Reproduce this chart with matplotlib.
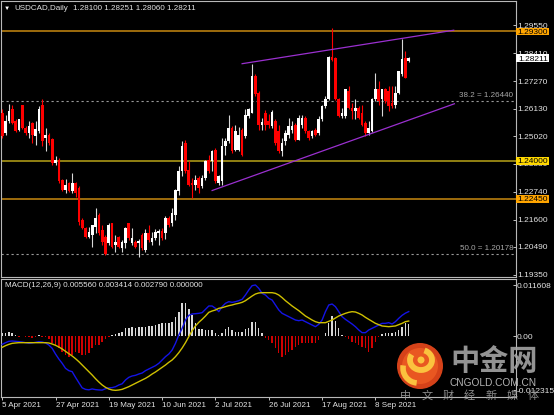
import matplotlib
matplotlib.use('Agg')
import matplotlib.pyplot as plt
from matplotlib.patches import Circle, Rectangle, Arc
import numpy as np

plt.rcParams['font.family'] = ['Liberation Sans', 'DejaVu Sans']

# ---- daily candles, 5 Apr 2021 .. 22 Sep 2021 ----
OPEN = [1.2597, 1.2515, 1.2563, 1.2611, 1.2563, 1.2528, 1.2627, 1.2535, 1.2515, 1.2556,
        1.2501, 1.2522, 1.2631, 1.2494, 1.2508, 1.2490, 1.2391, 1.2405, 1.2323, 1.2282,
        1.2309, 1.2275, 1.2309, 1.2289, 1.2159, 1.2124, 1.2090, 1.2097, 1.2131, 1.2179,
        1.2117, 1.2090, 1.2063, 1.2145, 1.2056, 1.2090, 1.2042, 1.2063, 1.2145, 1.2063,
        1.2069, 1.2063, 1.2097, 1.2035, 1.2106, 1.2069, 1.2083, 1.2106, 1.2114, 1.2104,
        1.2165, 1.2145, 1.2179, 1.2275, 1.2357, 1.2474, 1.2364, 1.2309, 1.2302, 1.2330,
        1.2296, 1.2330, 1.2405, 1.2398, 1.2446, 1.2309, 1.2316, 1.2460, 1.2480, 1.2535,
        1.2446, 1.2446, 1.2528, 1.2501, 1.2583, 1.2597, 1.2748, 1.2679, 1.2546, 1.2597,
        1.2563, 1.2542, 1.2565, 1.2521, 1.2439, 1.2480, 1.2508, 1.2528, 1.2549, 1.2487,
        1.2549, 1.2576, 1.2521, 1.2501, 1.2528, 1.2515, 1.2570, 1.2624, 1.2652, 1.2826,
        1.2823, 1.2652, 1.2583, 1.2583, 1.2686, 1.2618, 1.2604, 1.2618, 1.2597, 1.2556,
        1.2515, 1.2521, 1.2652, 1.2693, 1.2652, 1.2693, 1.2686, 1.2638, 1.2631, 1.2679,
        1.2755, 1.2823, 1.2810]
HIGH = [1.2611, 1.2590, 1.2635, 1.2627, 1.2570, 1.2572, 1.2631, 1.2542, 1.2563, 1.2559,
        1.2563, 1.2624, 1.2652, 1.2535, 1.2515, 1.2494, 1.2419, 1.2412, 1.2326, 1.2326,
        1.2312, 1.2350, 1.2312, 1.2296, 1.2165, 1.2131, 1.2131, 1.2138, 1.2206, 1.2186,
        1.2138, 1.2097, 1.2148, 1.2148, 1.2097, 1.2093, 1.2076, 1.2131, 1.2148, 1.2124,
        1.2076, 1.2079, 1.2104, 1.2120, 1.2138, 1.2110, 1.2120, 1.2120, 1.2124, 1.2175,
        1.2175, 1.2206, 1.2287, 1.2378, 1.2480, 1.2487, 1.2398, 1.2330, 1.2343, 1.2337,
        1.2343, 1.2405, 1.2426, 1.2446, 1.2453, 1.2343, 1.2494, 1.2494, 1.2590, 1.2542,
        1.2549, 1.2538, 1.2535, 1.2611, 1.2618, 1.2798, 1.2755, 1.2686, 1.2576, 1.2607,
        1.2593, 1.2607, 1.2570, 1.2549, 1.2494, 1.2528, 1.2576, 1.2563, 1.2556, 1.2590,
        1.2590, 1.2583, 1.2528, 1.2528, 1.2535, 1.2583, 1.2631, 1.2665, 1.2830, 1.2946,
        1.2826, 1.2656, 1.2618, 1.2693, 1.2707, 1.2638, 1.2652, 1.2624, 1.2631, 1.2563,
        1.2563, 1.2656, 1.2761, 1.2727, 1.2693, 1.2700, 1.2707, 1.2707, 1.2707, 1.2768,
        1.2898, 1.2850, 1.28251]
LOW = [1.2494, 1.2508, 1.2556, 1.2553, 1.2517, 1.2522, 1.2531, 1.2508, 1.2494, 1.2474,
       1.2467, 1.2515, 1.2460, 1.2439, 1.2467, 1.2385, 1.2385, 1.2309, 1.2275, 1.2268,
       1.2271, 1.2268, 1.2254, 1.2138, 1.2120, 1.2083, 1.2083, 1.2049, 1.2104, 1.2097,
       1.2056, 1.2015, 1.2056, 1.2042, 1.2028, 1.2042, 1.2028, 1.2042, 1.2076, 1.2056,
       1.2042, 1.2008, 1.2035, 1.2028, 1.2069, 1.2056, 1.2076, 1.2056, 1.2076, 1.2079,
       1.2128, 1.2134, 1.2159, 1.2261, 1.2337, 1.2350, 1.2296, 1.2248, 1.2282, 1.2268,
       1.2289, 1.2323, 1.2350, 1.2357, 1.2309, 1.2302, 1.2302, 1.2426, 1.2474, 1.2433,
       1.2439, 1.2439, 1.2419, 1.2494, 1.2576, 1.2597, 1.2665, 1.2528, 1.2528, 1.2528,
       1.2535, 1.2535, 1.2467, 1.2433, 1.2419, 1.2467, 1.2494, 1.2515, 1.2483, 1.2487,
       1.2535, 1.2515, 1.2487, 1.2494, 1.2501, 1.2508, 1.2563, 1.2618, 1.2648, 1.2809,
       1.2648, 1.2579, 1.2576, 1.2576, 1.2611, 1.2570, 1.2570, 1.2570, 1.2542, 1.2501,
       1.2508, 1.2519, 1.2645, 1.2631, 1.2583, 1.2638, 1.2604, 1.2618, 1.2618, 1.2672,
       1.2748, 1.2738, 1.2806]
CLOSE = [1.2501, 1.2563, 1.2604, 1.2556, 1.2522, 1.2570, 1.2535, 1.2515, 1.2545, 1.2508,
         1.2531, 1.2611, 1.2480, 1.2508, 1.2474, 1.2391, 1.2405, 1.2316, 1.2282, 1.2302,
         1.2275, 1.2309, 1.2268, 1.2152, 1.2124, 1.2090, 1.2110, 1.2138, 1.2165, 1.2104,
         1.2069, 1.2021, 1.2138, 1.2049, 1.2069, 1.2049, 1.2069, 1.2124, 1.2083, 1.2083,
         1.2049, 1.2074, 1.2042, 1.2104, 1.2076, 1.2083, 1.2110, 1.2114, 1.2083, 1.2165,
         1.2138, 1.2186, 1.2282, 1.2357, 1.2460, 1.2357, 1.2302, 1.2302, 1.2323, 1.2289,
         1.2330, 1.2398, 1.2357, 1.2439, 1.2316, 1.2337, 1.2460, 1.2480, 1.2535, 1.2439,
         1.2521, 1.2508, 1.2426, 1.2590, 1.2611, 1.2748, 1.2672, 1.2549, 1.2560, 1.2549,
         1.2549, 1.2601, 1.2474, 1.2439, 1.2474, 1.2515, 1.2542, 1.2542, 1.2487, 1.2576,
         1.2576, 1.2521, 1.2494, 1.2524, 1.2508, 1.2570, 1.2624, 1.2652, 1.2826, 1.2812,
         1.2652, 1.2583, 1.2597, 1.2693, 1.2618, 1.2604, 1.2618, 1.2576, 1.2549, 1.2515,
         1.2535, 1.2652, 1.2693, 1.2645, 1.2693, 1.2645, 1.2624, 1.2624, 1.2679, 1.2768,
         1.2816, 1.2741, 1.28211]

# ---- MACD(12,26,9) window ----
MACD_MAIN = [-0.00190, -0.00152, -0.00121, -0.00114, -0.00121, -0.00129, -0.00137, -0.00152, -0.00167, -0.00159,
             -0.00144, -0.00129, -0.00137, -0.00159, -0.00205, -0.00281, -0.00410, -0.00524, -0.00622, -0.00736,
             -0.00789, -0.00812, -0.00941, -0.01062, -0.01180, -0.01215, -0.01225, -0.01205, -0.01220, -0.01228,
             -0.01231, -0.01200, -0.01180, -0.01175, -0.01155, -0.01115, -0.01088, -0.01001, -0.00941, -0.00910,
             -0.00895, -0.00865, -0.00842, -0.00789, -0.00751, -0.00713, -0.00675, -0.00622, -0.00546, -0.00470,
             -0.00410, -0.00319, -0.00167, 0.00023, 0.00175, 0.00364, 0.00470, 0.00501, 0.00508, 0.00516,
             0.00531, 0.00607, 0.00683, 0.00683, 0.00630, 0.00554, 0.00668, 0.00744, 0.00781, 0.00766,
             0.00781, 0.00804, 0.00835, 0.00933, 0.01047, 0.01146, 0.01161, 0.01085, 0.00971, 0.00933,
             0.00857, 0.00819, 0.00706, 0.00592, 0.00516, 0.00478, 0.00440, 0.00402, 0.00364, 0.00349,
             0.00364, 0.00326, 0.00288, 0.00250, 0.00212, 0.00266, 0.00364, 0.00554, 0.00706, 0.00728,
             0.00668, 0.00554, 0.00440, 0.00379, 0.00326, 0.00273, 0.00212, 0.00137, 0.00076, 0.00076,
             0.00137, 0.00175, 0.00212, 0.00250, 0.00288, 0.00288, 0.00303, 0.00273, 0.00326, 0.00402,
             0.00470, 0.00520, 0.00556]
MACD_SIGNAL = [-0.00258, -0.00220, -0.00190, -0.00167, -0.00159, -0.00152, -0.00152, -0.00152, -0.00152, -0.00152,
               -0.00152, -0.00152, -0.00152, -0.00152, -0.00159, -0.00182, -0.00212, -0.00250, -0.00296, -0.00349,
               -0.00402, -0.00455, -0.00516, -0.00584, -0.00660, -0.00736, -0.00812, -0.00888, -0.00971, -0.01047,
               -0.01115, -0.01168, -0.01206, -0.01229, -0.01237, -0.01229, -0.01214, -0.01184, -0.01153, -0.01115,
               -0.01077, -0.01039, -0.01001, -0.00964, -0.00918, -0.00865, -0.00819, -0.00766, -0.00713, -0.00660,
               -0.00599, -0.00546, -0.00470, -0.00379, -0.00273, -0.00152, -0.00015, 0.00121, 0.00228, 0.00311,
               0.00379, 0.00455, 0.00539, 0.00569, 0.00592, 0.00630, 0.00645, 0.00668, 0.00690, 0.00706,
               0.00728, 0.00744, 0.00766, 0.00804, 0.00857, 0.00910, 0.00956, 0.00979, 0.00986, 0.00986,
               0.00986, 0.00986, 0.00971, 0.00933, 0.00873, 0.00804, 0.00744, 0.00683, 0.00630, 0.00577,
               0.00516, 0.00455, 0.00410, 0.00364, 0.00326, 0.00303, 0.00303, 0.00303, 0.00334, 0.00364,
               0.00410, 0.00455, 0.00486, 0.00516, 0.00539, 0.00554, 0.00546, 0.00516, 0.00478, 0.00425,
               0.00379, 0.00334, 0.00288, 0.00258, 0.00228, 0.00220, 0.00212, 0.00220, 0.00228, 0.00258,
               0.00288, 0.00326, 0.00341]
MACD_HIST = [0.00076, 0.00061, 0.00099, 0.00061, 0.00023, -0.00015, -0.00008, -0.00030, -0.00030, -0.00046,
             -0.00030, 0.00023, -0.00015, -0.00030, -0.00076, -0.00152, -0.00205, -0.00281, -0.00357, -0.00432,
             -0.00470, -0.00432, -0.00357, -0.00395, -0.00432, -0.00432, -0.00395, -0.00281, -0.00205, -0.00205,
             -0.00129, -0.00076, -0.00030, 0.00023, 0.00046, 0.00061, 0.00099, 0.00175, 0.00175, 0.00197,
             0.00175, 0.00197, 0.00212, 0.00212, 0.00228, 0.00228, 0.00250, 0.00273, 0.00303, 0.00288,
             0.00303, 0.00326, 0.00440, 0.00554, 0.00759, 0.00744, 0.00607, 0.00478, 0.00288, 0.00152,
             0.00152, 0.00137, 0.00137, 0.00137, 0.00076, 0.00023, 0.00076, 0.00152, 0.00197, 0.00137,
             0.00099, 0.00099, 0.00099, 0.00152, 0.00175, 0.00326, 0.00326, 0.00175, 0.00076, -0.00053,
             -0.00091, -0.00167, -0.00281, -0.00395, -0.00470, -0.00432, -0.00357, -0.00319, -0.00243, -0.00205,
             -0.00167, -0.00167, -0.00152, -0.00167, -0.00152, -0.00091, 0.00008, 0.00076, 0.00288, 0.00455,
             0.00349, 0.00175, 0.00023, -0.00015, -0.00076, -0.00129, -0.00167, -0.00205, -0.00243, -0.00281,
             -0.00357, -0.00281, -0.00129, -0.00030, 0.00046, 0.00061, 0.00061, 0.00061, 0.00099, 0.00137,
             0.00212, 0.00288, 0.00279]

DATE_IDX = [0, 16, 32, 48, 64, 80, 96, 112]
DATE_LABELS = ['5 Apr 2021', '27 Apr 2021', '19 May 2021', '10 Jun 2021',
               '2 Jul 2021', '26 Jul 2021', '17 Aug 2021', '8 Sep 2021']
PRICE_TICKS = [1.2955, 1.2841, 1.2727, 1.2613, 1.2502, 1.2388, 1.2274, 1.2160, 1.2049, 1.1935]
MACD_TICKS = [0.011608, 0.0, -0.012315]
MACD_TICK_LABELS = ['0.011608', '0.00', '-0.012315']

# horizontal levels (price, box colour, line colour)
LEVELS = [1.2930, 1.2400, 1.2245]
LEVEL_BOX = ['#ffa500', '#ffd800', '#ffa500']
LEVEL_LINE = ['#c88a10', '#b8a418', '#c88a10']
FIB_LEVELS = [1.2644, 1.20178]
FIB_NAMES = ['38.2', '50.0']
UPPER_X, UPPER_Y = [72.0, 135.5], [1.2798, 1.2935]
LOWER_X, LOWER_Y = [63.0, 135.7], [1.2279, 1.2634]
LAST = 1.28211

W, H = 554, 415
fig = plt.figure(figsize=(W / 100, H / 100), dpi=100, facecolor='black')

def px_axes(left, top, right, bottom, **kw):
    return fig.add_axes([left / W, 1 - bottom / H, (right - left) / W, (bottom - top) / H], **kw)

ax = px_axes(1, 1, 515.7, 277.3)
am = px_axes(1, 279, 515.7, 396.7)
FG = '#e4e4e4'
for a in (ax, am):
    a.set_facecolor('black')
    for s in a.spines.values():
        s.set_color('#b8b8b8'); s.set_linewidth(0.8)
    a.set_xlim(-0.36, 154.1)
    a.yaxis.tick_right()
    a.tick_params(axis='y', direction='in', length=2.5, width=0.7, colors='#c0c0c0',
                  labelcolor=FG, labelsize=6, pad=1)

# ---- price panel ----
ax.set_ylim(1.19238, 1.30546)
ax.set_yticks(PRICE_TICKS)
ax.set_yticklabels([f'{v:.5f}' for v in PRICE_TICKS])
ax.set_xticks([])

x = np.arange(len(CLOSE))
op, cl = np.array(OPEN), np.array(CLOSE)
hi, lo = np.array(HIGH), np.array(LOW)
bull = cl >= op
ax.vlines(x[bull], lo[bull], hi[bull], color='#d8d8d8', lw=0.8, zorder=3)
ax.vlines(x[~bull], lo[~bull], hi[~bull], color='#ff0000', lw=0.8, zorder=3)
ax.bar(x, np.maximum(np.abs(cl - op), 0.0001), bottom=np.minimum(op, cl), width=0.8,
       color=np.where(bull, '#ffffff', '#ff0000'), lw=0, zorder=4)

for lv, lc in zip(LEVELS, LEVEL_LINE):
    ax.axhline(lv, color=lc, lw=1.1, zorder=2)
for lv, nm in zip(FIB_LEVELS, FIB_NAMES):
    ax.axhline(lv, color='#9a9a9a', lw=0.8, ls=(0, (2, 2.5)), zorder=2)
    ax.annotate(f'{nm} = {lv:.5f}', xy=(0.9955, lv), xycoords=ax.get_yaxis_transform(),
                xytext=(0, 1.5), textcoords='offset points', ha='right', va='bottom',
                fontsize=5.8, color='#a8a8a8', zorder=5)
ax.plot(UPPER_X, UPPER_Y, color='#9b30d0', lw=0.9, zorder=5, clip_on=False)
ax.plot(LOWER_X, LOWER_Y, color='#9b30d0', lw=0.9, zorder=5)

# price boxes on the right scale
yt = ax.get_yaxis_transform()
bh = 7.6 / 2432
for lv, fc in list(zip(LEVELS, LEVEL_BOX)) + [(LAST, '#ffffff')]:
    ax.add_patch(Rectangle((1.0008, lv - bh / 2), 0.0645, bh, transform=yt, fc=fc,
                           ec='none', clip_on=False, zorder=6))
    ax.text(1.0335, lv, f'{lv:.5f}', transform=yt, ha='center', va='center_baseline',
            fontsize=6, color='black', clip_on=False, zorder=7)

# ---- MACD panel ----
am.set_ylim(-0.013816, 0.012974)
am.set_yticks(MACD_TICKS)
am.set_yticklabels(MACD_TICK_LABELS)
hist = np.array(MACD_HIST)
am.bar(x, hist, width=0.42, color=np.where(hist >= 0, '#d8d8d8', '#d00000'), lw=0, zorder=2)
am.plot(x, MACD_MAIN, color='#1414e6', lw=1.0, zorder=3)
am.plot(x, MACD_SIGNAL, color='#cfc000', lw=1.0, zorder=3)
am.set_xticks(DATE_IDX)
am.set_xticklabels(DATE_LABELS)
am.tick_params(axis='x', direction='out', length=2.5, width=0.7, colors='#c0c0c0',
               labelcolor=FG, labelsize=5.8, pad=1.5)
for lbl in am.get_xticklabels():
    lbl.set_ha('left')

# ---- header texts and watermark (pixel overlay) ----
ov = fig.add_axes([0, 0, 1, 1], zorder=10)
ov.set_xlim(0, W); ov.set_ylim(H, 0); ov.axis('off'); ov.patch.set_alpha(0)
ov.text(4, 8.3, '\u25bc', fontsize=4.5, color='white', va='center')
ov.text(14, 8.3, 'USDCAD,Daily', fontsize=5.8, color=FG, va='center')
ov.text(73, 8.3, '1.28100 1.28251 1.28060 1.28211', fontsize=5.8, color=FG, va='center')
ov.text(5, 285.7, 'MACD(12,26,9) 0.005560 0.003414 0.002790 0.000000', fontsize=5.8,
        color=FG, va='center')

ov.add_patch(Circle((420, 366), 23, fc='#e2461b', ec='none', alpha=0.95))
ov.add_patch(Circle((420, 366), 18, fc='#ec5a22', ec='none', alpha=0.9))
ov.add_patch(Arc((421, 360), 22, 20, theta1=-70, theta2=210, lw=4.2, color='#fbc23e'))
ov.add_patch(Circle((421, 360), 3.5, fc='#fbc23e', ec='none'))
ov.add_patch(Arc((418, 368), 30, 30, theta1=95, theta2=190, lw=4.0, color='#fbc23e'))
ov.text(494, 361, '中金网', fontsize=21, family=['Noto Sans CJK SC'], weight='bold',
        color='#a4a4a4', alpha=0.9, ha='center', va='center')
ov.text(493, 382.5, 'CNGOLD.COM.CN', fontsize=7.3, color='#b4b4b4', ha='center', va='center')
for k, ch in enumerate('中文财经新媒体'):
    ov.text(406 + k * 21.2, 395.5, ch, fontsize=8, family=['Noto Sans CJK SC'],
            color='#9a9a9a', alpha=0.9, ha='center', va='center')

fig.savefig('out.png', dpi=100, facecolor='black')
